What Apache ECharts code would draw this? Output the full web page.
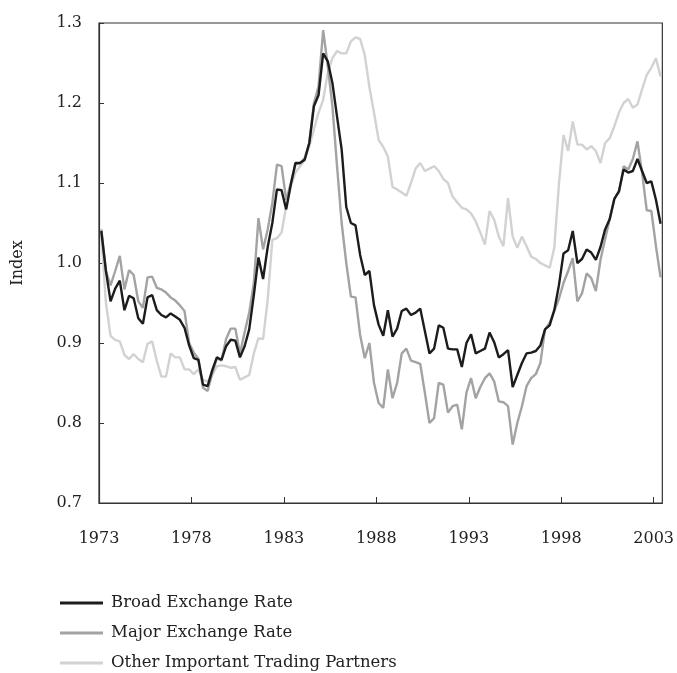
<!DOCTYPE html>
<html>
<head>
<meta charset="utf-8">
<script src="https://cdn.jsdelivr.net/npm/echarts@6/dist/echarts.min.js"></script>
<style>
html,body{margin:0;padding:0;background:#fff;}
#chart{width:677px;height:673px;}
</style>
</head>
<body>
<div id="chart"></div>
<script>
// Quarterly data, 1973Q1 .. 2003Q2
const startYear = 1973;
const seriesNames = ['Broad Exchange Rate', 'Major Exchange Rate', 'Other Important Trading Partners'];
const xTickYears = [1973, 1978, 1983, 1988, 1993, 1998, 2003];
const yTicks = [0.7, 0.8, 0.9, 1.0, 1.1, 1.2, 1.3];

const broad = [
1.04,0.99,0.952,0.968,0.978,0.941,0.959,0.956,0.931,0.924,
0.957,0.96,0.941,0.935,0.932,0.937,0.933,0.929,0.919,0.897,
0.881,0.879,0.848,0.846,0.866,0.882,0.879,0.896,0.904,0.903,
0.882,0.896,0.917,0.96,1.007,0.98,1.02,1.05,1.092,1.091,
1.067,1.098,1.125,1.125,1.129,1.15,1.196,1.21,1.262,1.252,
1.225,1.183,1.142,1.07,1.05,1.047,1.01,0.985,0.99,0.947,
0.923,0.909,0.941,0.908,0.918,0.94,0.943,0.935,0.938,0.943,
0.915,0.887,0.893,0.922,0.919,0.893,0.892,0.892,0.87,0.9,
0.911,0.887,0.89,0.893,0.913,0.901,0.882,0.886,0.891,0.845,
0.86,0.875,0.887,0.888,0.89,0.897,0.917,0.922,0.941,0.972,
1.012,1.016,1.04,1.0,1.005,1.017,1.013,1.004,1.02,1.042,
1.055,1.08,1.09,1.117,1.113,1.115,1.13,1.115,1.1,1.102,
1.079,1.049];

const major = [
1.042,0.99,0.972,0.99,1.009,0.967,0.991,0.985,0.952,0.944,
0.982,0.983,0.969,0.967,0.963,0.957,0.953,0.947,0.94,0.9,
0.888,0.88,0.844,0.84,0.862,0.881,0.878,0.905,0.918,0.918,
0.887,0.913,0.938,0.975,1.056,1.017,1.042,1.075,1.123,1.121,
1.079,1.1,1.123,1.125,1.131,1.15,1.2,1.221,1.291,1.246,
1.196,1.121,1.05,1.0,0.958,0.957,0.91,0.881,0.9,0.85,
0.825,0.819,0.867,0.831,0.85,0.887,0.893,0.878,0.876,0.874,
0.838,0.8,0.806,0.85,0.848,0.813,0.821,0.823,0.792,0.838,
0.856,0.831,0.845,0.856,0.862,0.852,0.827,0.826,0.821,0.773,
0.8,0.821,0.846,0.856,0.861,0.875,0.917,0.925,0.94,0.955,
0.975,0.99,1.006,0.952,0.962,0.987,0.981,0.965,1.004,1.03,
1.055,1.081,1.088,1.121,1.117,1.13,1.152,1.113,1.066,1.065,
1.021,0.982];

const other = [
1.035,0.95,0.909,0.904,0.902,0.885,0.88,0.886,0.88,0.876,
0.899,0.902,0.878,0.858,0.858,0.887,0.882,0.882,0.867,0.867,
0.861,0.867,0.854,0.852,0.86,0.871,0.872,0.871,0.869,0.87,
0.854,0.857,0.86,0.887,0.906,0.905,0.954,1.029,1.031,1.038,
1.071,1.096,1.113,1.121,1.129,1.146,1.167,1.188,1.204,1.238,
1.256,1.265,1.262,1.262,1.277,1.282,1.28,1.26,1.22,1.188,
1.154,1.145,1.133,1.095,1.092,1.088,1.084,1.1,1.118,1.125,
1.115,1.118,1.121,1.115,1.105,1.1,1.083,1.076,1.069,1.067,
1.062,1.052,1.038,1.023,1.065,1.054,1.033,1.021,1.081,1.033,
1.019,1.033,1.021,1.008,1.005,1.0,0.997,0.994,1.019,1.098,
1.16,1.14,1.177,1.148,1.148,1.142,1.146,1.14,1.125,1.15,
1.156,1.171,1.188,1.2,1.205,1.194,1.198,1.217,1.235,1.244,
1.256,1.233];

// position each quarterly value at the middle of its quarter
function toPairs(arr){
  return arr.map((v,i)=>[startYear + 0.125 + i/4, v]);
}

const FONT = 'DejaVu Serif';
const chart = echarts.init(document.getElementById('chart'), null, {renderer:'canvas'});
const colors = ['#1c1c1c', '#a3a3a3', '#d2d2d2'];
const dataSets = [broad, major, other];

chart.setOption({
  animation: false,
  backgroundColor: '#fff',
  textStyle: {fontFamily: FONT, color: '#222'},
  grid: {left: 99, right: 14, top: 23, bottom: 170, show: true, borderColor: '#333', borderWidth: 1.2, backgroundColor: 'transparent'},
  legend: {
    orient: 'vertical', left: 60, top: 594, padding: 0,
    itemWidth: 43, itemHeight: 3, itemGap: 12,
    icon: 'rect',
    textStyle: {fontFamily: FONT, fontSize: 16.5, lineHeight: 18, color: '#222', padding: [0,0,0,3]},
    data: seriesNames
  },
  xAxis: {
    type: 'value', min: xTickYears[0], max: 2003.47, interval: 5,
    axisLine: {lineStyle: {color: '#333', width: 1.2}},
    axisTick: {inside: true, length: 6, lineStyle: {color: '#333'}},
    splitLine: {show: false},
    axisLabel: {
      fontFamily: FONT, fontSize: 16, color: '#222', margin: 28,
      showMaxLabel: false,
      formatter: v => xTickYears.includes(Math.round(v*1000)/1000) ? String(v) : ''
    }
  },
  yAxis: {
    type: 'value', min: yTicks[0], max: yTicks[yTicks.length-1], interval: 0.1,
    name: 'Index', nameLocation: 'middle', nameGap: 73, nameRotate: 90,
    nameTextStyle: {fontFamily: FONT, fontSize: 16, color: '#222'},
    axisLine: {show: true, lineStyle: {color: '#333', width: 1.2}},
    axisTick: {inside: true, length: 5, lineStyle: {color: '#333'}},
    splitLine: {show: false},
    axisLabel: {fontFamily: FONT, fontSize: 16, color: '#222', margin: 17, formatter: v => v.toFixed(1)}
  },
  series: seriesNames.map((name, k) => ({
    name: name, type: 'line', data: toPairs(dataSets[k]),
    showSymbol: false, symbol: 'none',
    z: 3 - k,
    lineStyle: {color: colors[k], width: 2.4},
    itemStyle: {color: colors[k]}
  }))
});
</script>
</body>
</html>
